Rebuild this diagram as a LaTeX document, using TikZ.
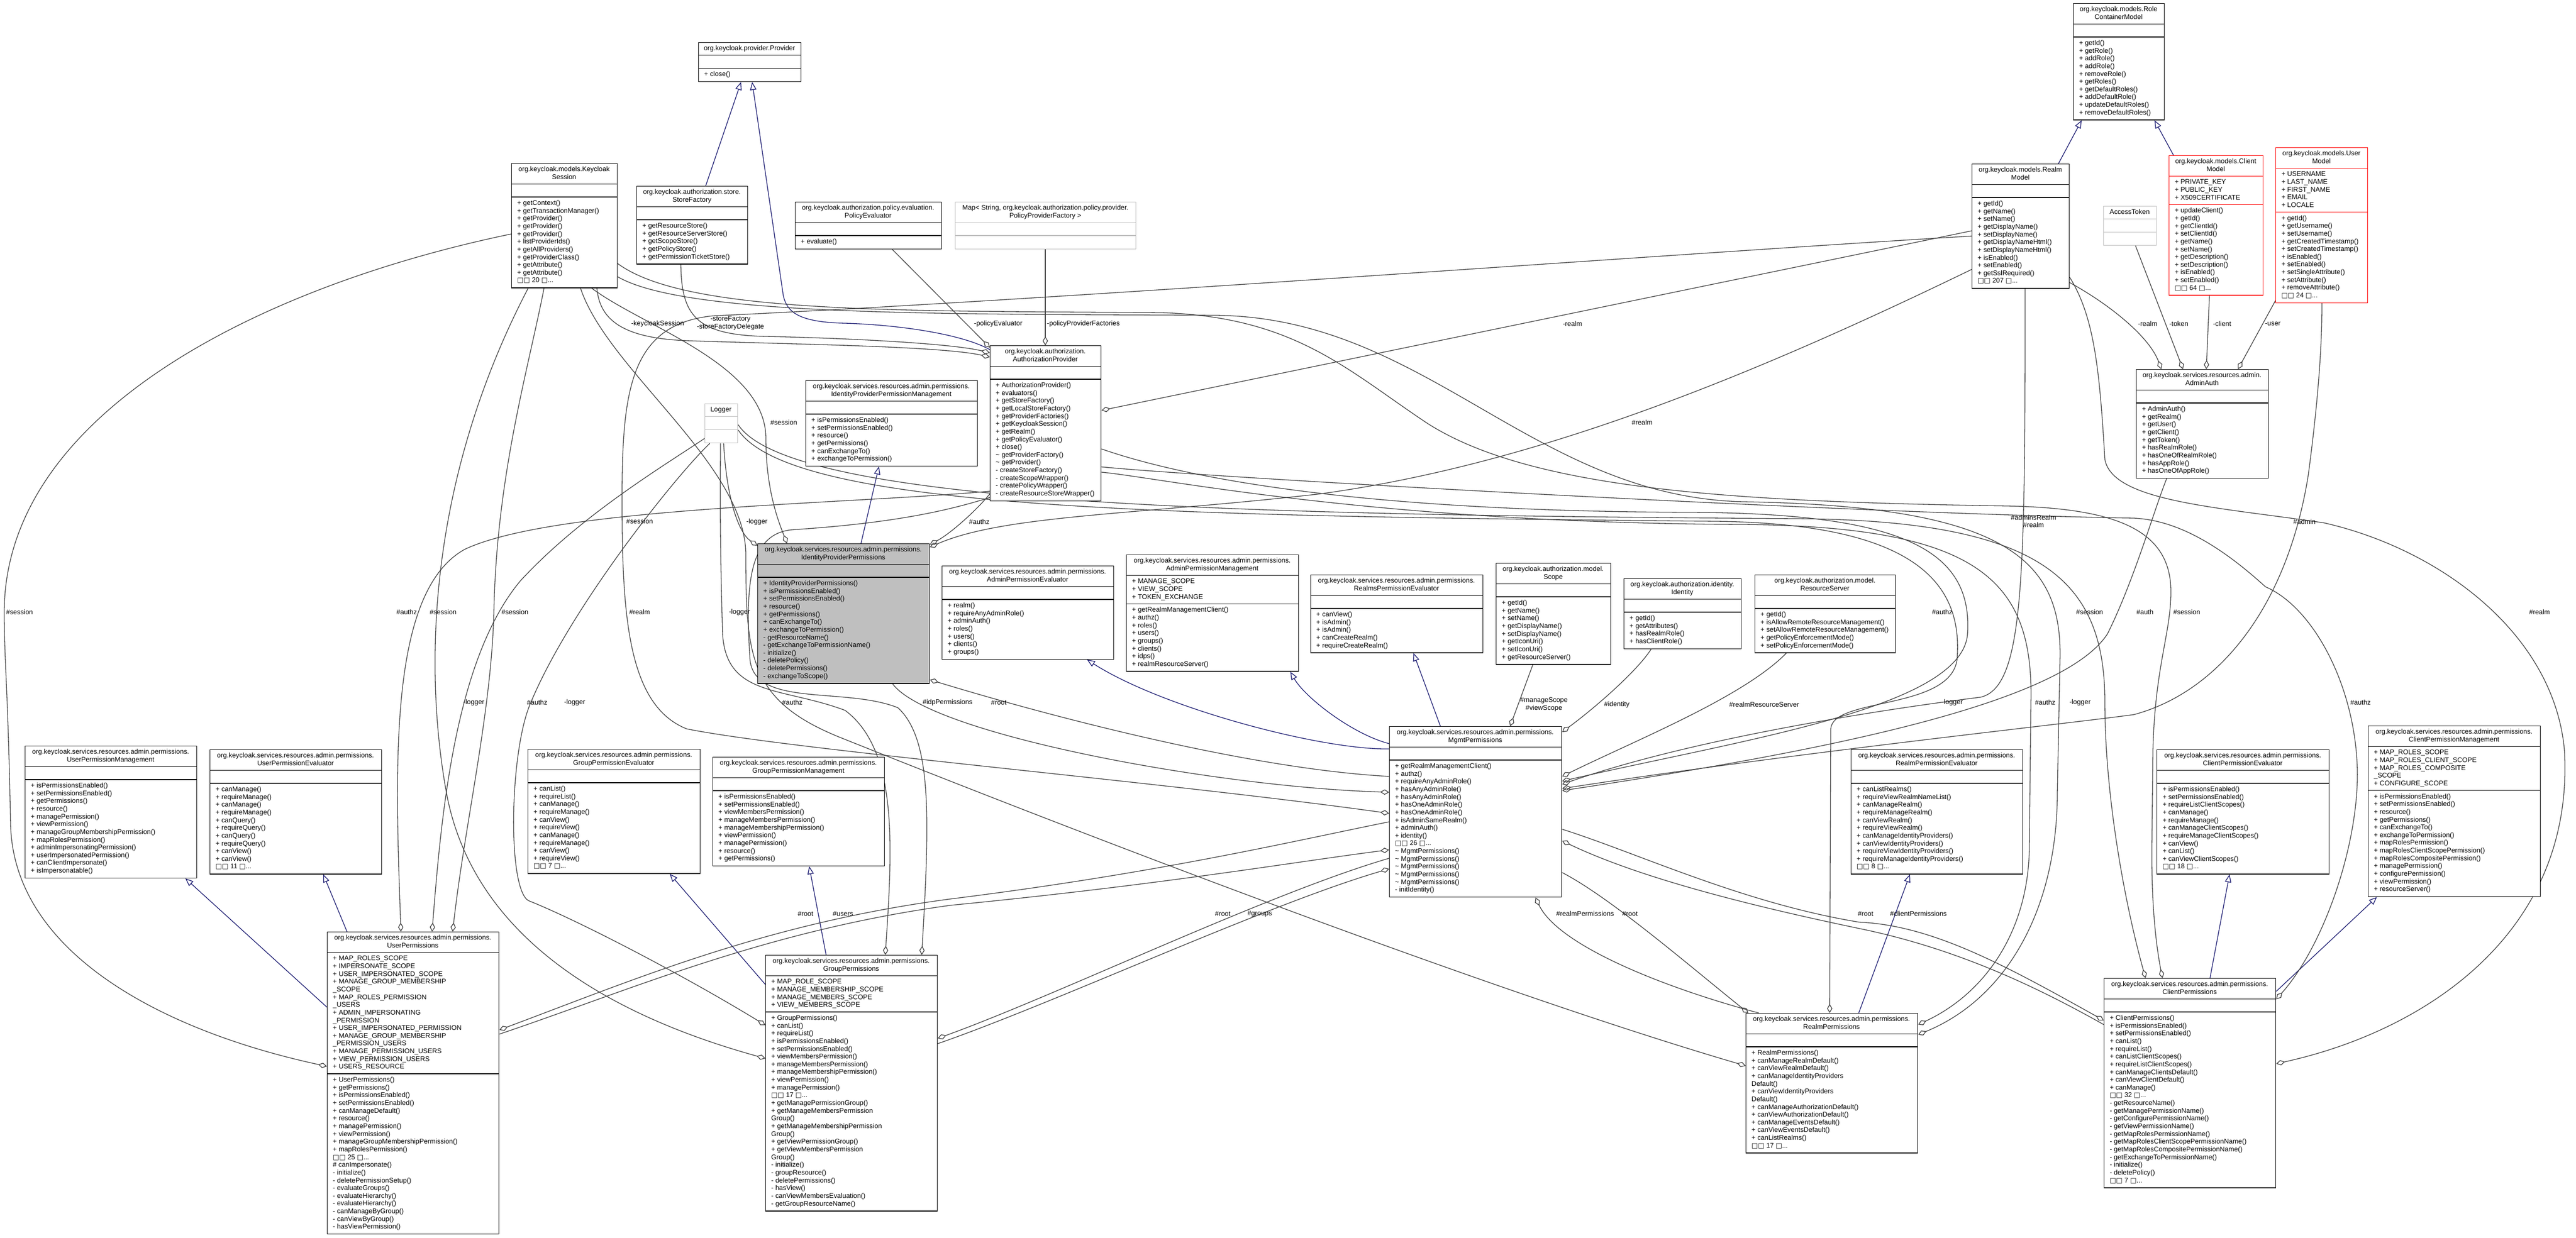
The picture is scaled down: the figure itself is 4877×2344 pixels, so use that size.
\documentclass[tikz,border=0pt]{standalone}
\usepackage{fontspec}
\setmainfont{Liberation Sans}
\newfontfamily\symf{DejaVu Sans}
\usetikzlibrary{arrows.meta}
\pgfdeclarelayer{back}
\pgfdeclarelayer{bg}
\pgfsetlayers{back,bg,main}
\definecolor{edgec}{HTML}{404040}
\definecolor{inhc}{HTML}{191970}
\definecolor{grayb}{HTML}{BFBFBF}
\newcommand\fs{\fontsize{12.85}{14.65}\selectfont}
\newcommand\sq{{\symf\char"25A1}}
\newcommand\more[1]{\sq\sq\ #1 \sq...}
\tikzset{
  umlb/.style={draw=black,line width=1.4pt,fill=white,inner sep=0pt,rectangle},
  umlsep/.style={line width=1.4pt},
  lab/.style={inner sep=0pt,font=\fs},
  inh/.style={draw=inhc,line width=1.3pt,-{Triangle[open,length=15pt,width=12pt]}},
  agg/.style={draw=edgec,line width=1.3pt,{Diamond[open,length=17pt,width=10pt]}-},
}
\newcommand\umlbox[9]{\def\ubN{#1}\def\ubS{#2}\def\ubX{#3}\def\ubY{#4}\def\ubW{#5}\def\ubNH{#6}\def\ubNA{#7}\def\ubNM{#8}\def\ubH{#9}\umlboxrest}
\newcommand\umlboxrest[2]{%
  \pgfmathsetmacro\hH{\ubNH*14.65+10}%
  \pgfmathsetmacro\hA{max(\ubNA,1)*14.65+10}%
  \pgfmathsetmacro\hM{max(\ubNM,1)*14.65+10}%
  \pgfmathsetmacro\hT{\hH+\hA+\hM}%
  \edef\tmpstyle{\noexpand\tikzset{curbox/.style={\ubS}}}\tmpstyle
  \node[umlb,curbox,minimum width=\ubW pt,minimum height=\hT pt,anchor=north west] (\ubN) at (\ubX,\ubY) {};
  \draw[umlsep,curbox,fill=none] (\ubX,\ubY+\hH) -- ++(\ubW,0);
  \draw[umlsep,curbox,fill=none] (\ubX,\ubY+\hH+\hA) -- ++(\ubW,0);
  \foreach \txt [count=\ii from 0] in \ubH {\node[lab,anchor=base] at (\ubX+\ubW/2,\ubY+15.5+\ii*14.65) {\txt};}
  \ifnum\ubNA>0
    \foreach \txt [count=\ii from 0] in {#1} {\node[lab,anchor=base west] at (\ubX+11,\ubY+\hH+15.5+\ii*14.65) {\txt};}
  \fi
  \ifnum\ubNM>0
    \foreach \txt [count=\ii from 0] in {#2} {\node[lab,anchor=base west] at (\ubX+11,\ubY+\hH+\hA+15.5+\ii*14.65) {\txt};}
  \fi
}
\begin{document}
\begin{tikzpicture}[x=1pt,y=-1pt]
\begin{pgfonlayer}{back}\fill[white] (0,0) rectangle (4877,2344);\end{pgfonlayer}
\useasboundingbox (0,0) rectangle (4877,2344);

% ---------- boxes ----------
\umlbox{PROV}{}{1322}{80}{194}{1}{0}{1}{org.keycloak.provider.Provider}{}{+ close()}
\umlbox{KS}{}{968}{309}{200}{2}{0}{11}{org.keycloak.models.Keycloak,Session}{}{+ getContext(),+ getTransactionManager(),+ getProvider(),+ getProvider(),+ getProvider(),+ listProviderIds(),+ getAllProviders(),+ getProviderClass(),+ getAttribute(),+ getAttribute(),\more{20}}
\umlbox{SF}{}{1205}{352}{210}{2}{0}{5}{org.keycloak.authorization.store.,StoreFactory}{}{+ getResourceStore(),+ getResourceServerStore(),+ getScopeStore(),+ getPolicyStore(),+ getPermissionTicketStore()}
\umlbox{PE}{}{1505}{382}{277}{2}{0}{1}{org.keycloak.authorization.policy.evaluation.,PolicyEvaluator}{}{+ evaluate()}
\umlbox{MAP}{draw=grayb}{1808}{382}{342}{2}{0}{0}{{Map< String, org.keycloak.authorization.policy.provider.},PolicyProviderFactory >}{}{}
\umlbox{AP}{}{1874}{654}{210}{2}{0}{15}{org.keycloak.authorization.,AuthorizationProvider}{}{+ AuthorizationProvider(),+ evaluators(),+ getStoreFactory(),+ getLocalStoreFactory(),+ getProviderFactories(),+ getKeycloakSession(),+ getRealm(),+ getPolicyEvaluator(),+ close(),\textasciitilde{} getProviderFactory(),\textasciitilde{} getProvider(),- createStoreFactory(),- createScopeWrapper(),- createPolicyWrapper(),- createResourceStoreWrapper()}
\umlbox{IPM}{}{1525}{720}{325}{2}{0}{6}{org.keycloak.services.resources.admin.permissions.,IdentityProviderPermissionManagement}{}{+ isPermissionsEnabled(),+ setPermissionsEnabled(),+ resource(),+ getPermissions(),+ canExchangeTo(),+ exchangeToPermission()}
\umlbox{LOG}{draw=grayb}{1334}{764}{62}{1}{0}{0}{Logger}{}{}
\umlbox{IPP}{fill=grayb}{1434}{1029}{325}{2}{0}{13}{org.keycloak.services.resources.admin.permissions.,IdentityProviderPermissions}{}{+ IdentityProviderPermissions(),+ isPermissionsEnabled(),+ setPermissionsEnabled(),+ resource(),+ getPermissions(),+ canExchangeTo(),+ exchangeToPermission(),- getResourceName(),- getExchangeToPermissionName(),- initialize(),- deletePolicy(),- deletePermissions(),- exchangeToScope()}
\umlbox{APE}{}{1783}{1071}{325}{2}{0}{7}{org.keycloak.services.resources.admin.permissions.,AdminPermissionEvaluator}{}{+ realm(),+ requireAnyAdminRole(),+ adminAuth(),+ roles(),+ users(),+ clients(),+ groups()}
\umlbox{APM}{}{2132}{1050}{326}{2}{3}{8}{org.keycloak.services.resources.admin.permissions.,AdminPermissionManagement}{+ MANAGE\_SCOPE,+ VIEW\_SCOPE,+ TOKEN\_EXCHANGE}{+ getRealmManagementClient(),+ authz(),+ roles(),+ users(),+ groups(),+ clients(),+ idps(),+ realmResourceServer()}
\umlbox{RPEA}{}{2481}{1088}{326}{2}{0}{5}{org.keycloak.services.resources.admin.permissions.,RealmsPermissionEvaluator}{}{+ canView(),+ isAdmin(),+ isAdmin(),+ canCreateRealm(),+ requireCreateRealm()}
\umlbox{SCOPE}{}{2832}{1066}{217}{2}{0}{8}{org.keycloak.authorization.model.,Scope}{}{+ getId(),+ getName(),+ setName(),+ getDisplayName(),+ setDisplayName(),+ getIconUri(),+ setIconUri(),+ getResourceServer()}
\umlbox{IDENT}{}{3074}{1095}{222}{2}{0}{4}{org.keycloak.authorization.identity.,Identity}{}{+ getId(),+ getAttributes(),+ hasRealmRole(),+ hasClientRole()}
\umlbox{RS}{}{3322}{1088}{266}{2}{0}{5}{org.keycloak.authorization.model.,ResourceServer}{}{+ getId(),+ isAllowRemoteResourceManagement(),+ setAllowRemoteResourceManagement(),+ getPolicyEnforcementMode(),+ setPolicyEnforcementMode()}
\umlbox{RCM}{}{3925}{6}{172}{2}{0}{10}{org.keycloak.models.Role,ContainerModel}{}{+ getId(),+ getRole(),+ addRole(),+ addRole(),+ removeRole(),+ getRoles(),+ getDefaultRoles(),+ addDefaultRole(),+ updateDefaultRoles(),+ removeDefaultRoles()}
\umlbox{RM}{}{3733}{310}{184}{2}{0}{11}{org.keycloak.models.Realm,Model}{}{+ getId(),+ getName(),+ setName(),+ getDisplayName(),+ setDisplayName(),+ getDisplayNameHtml(),+ setDisplayNameHtml(),+ isEnabled(),+ setEnabled(),+ getSslRequired(),\more{207}}
\umlbox{CM}{draw=red}{4106}{294}{178}{2}{3}{11}{org.keycloak.models.Client,Model}{+ PRIVATE\_KEY,+ PUBLIC\_KEY,+ X509CERTIFICATE}{+ updateClient(),+ getId(),+ getClientId(),+ setClientId(),+ getName(),+ setName(),+ getDescription(),+ setDescription(),+ isEnabled(),+ setEnabled(),\more{64}}
\umlbox{UM}{draw=red}{4308}{279}{174}{2}{5}{11}{org.keycloak.models.User,Model}{+ USERNAME,+ LAST\_NAME,+ FIRST\_NAME,+ EMAIL,+ LOCALE}{+ getId(),+ getUsername(),+ setUsername(),+ getCreatedTimestamp(),+ setCreatedTimestamp(),+ isEnabled(),+ setEnabled(),+ setSingleAttribute(),+ setAttribute(),+ removeAttribute(),\more{24}}
\umlbox{AT}{draw=grayb}{3982}{390}{100}{1}{0}{0}{AccessToken}{}{}
\umlbox{AA}{}{4044}{699}{250}{2}{0}{9}{org.keycloak.services.resources.admin.,AdminAuth}{}{+ AdminAuth(),+ getRealm(),+ getUser(),+ getClient(),+ getToken(),+ hasRealmRole(),+ hasOneOfRealmRole(),+ hasAppRole(),+ hasOneOfAppRole()}
\umlbox{MGMT}{}{2630}{1375}{326}{2}{0}{17}{org.keycloak.services.resources.admin.permissions.,MgmtPermissions}{}{+ getRealmManagementClient(),+ authz(),+ requireAnyAdminRole(),+ hasAnyAdminRole(),+ hasAnyAdminRole(),+ hasOneAdminRole(),+ hasOneAdminRole(),+ isAdminSameRealm(),+ adminAuth(),+ identity(),\more{26},\textasciitilde{} MgmtPermissions(),\textasciitilde{} MgmtPermissions(),\textasciitilde{} MgmtPermissions(),\textasciitilde{} MgmtPermissions(),\textasciitilde{} MgmtPermissions(),- initIdentity()}
\umlbox{UPM}{}{47}{1412}{325}{2}{0}{12}{org.keycloak.services.resources.admin.permissions.,UserPermissionManagement}{}{+ isPermissionsEnabled(),+ setPermissionsEnabled(),+ getPermissions(),+ resource(),+ managePermission(),+ viewPermission(),+ manageGroupMembershipPermission(),+ mapRolesPermission(),+ adminImpersonatingPermission(),+ userImpersonatedPermission(),+ canClientImpersonate(),+ isImpersonatable()}
\umlbox{UPE}{}{397}{1419}{325}{2}{0}{11}{org.keycloak.services.resources.admin.permissions.,UserPermissionEvaluator}{}{+ canManage(),+ requireManage(),+ canManage(),+ requireManage(),+ canQuery(),+ requireQuery(),+ canQuery(),+ requireQuery(),+ canView(),+ canView(),\more{11}}
\umlbox{GPE}{}{999}{1418}{326}{2}{0}{11}{org.keycloak.services.resources.admin.permissions.,GroupPermissionEvaluator}{}{+ canList(),+ requireList(),+ canManage(),+ requireManage(),+ canView(),+ requireView(),+ canManage(),+ requireManage(),+ canView(),+ requireView(),\more{7}}
\umlbox{GPM}{}{1349}{1433}{325}{2}{0}{9}{org.keycloak.services.resources.admin.permissions.,GroupPermissionManagement}{}{+ isPermissionsEnabled(),+ setPermissionsEnabled(),+ viewMembersPermission(),+ manageMembersPermission(),+ manageMembershipPermission(),+ viewPermission(),+ managePermission(),+ resource(),+ getPermissions()}
\umlbox{RPE}{}{3504}{1419}{325}{2}{0}{11}{org.keycloak.services.resources.admin.permissions.,RealmPermissionEvaluator}{}{+ canListRealms(),+ requireViewRealmNameList(),+ canManageRealm(),+ requireManageRealm(),+ canViewRealm(),+ requireViewRealm(),+ canManageIdentityProviders(),+ canViewIdentityProviders(),+ requireViewIdentityProviders(),+ requireManageIdentityProviders(),\more{8}}
\umlbox{CPE}{}{4083}{1419}{326}{2}{0}{11}{org.keycloak.services.resources.admin.permissions.,ClientPermissionEvaluator}{}{+ isPermissionsEnabled(),+ setPermissionsEnabled(),+ requireListClientScopes(),+ canManage(),+ requireManage(),+ canManageClientScopes(),+ requireManageClientScopes(),+ canView(),+ canList(),+ canViewClientScopes(),\more{18}}
\umlbox{CPM}{}{4483}{1374}{326}{2}{5}{13}{org.keycloak.services.resources.admin.permissions.,ClientPermissionManagement}{+ MAP\_ROLES\_SCOPE,+ MAP\_ROLES\_CLIENT\_SCOPE,+ MAP\_ROLES\_COMPOSITE,\_SCOPE,+ CONFIGURE\_SCOPE}{+ isPermissionsEnabled(),+ setPermissionsEnabled(),+ resource(),+ getPermissions(),+ canExchangeTo(),+ exchangeToPermission(),+ mapRolesPermission(),+ mapRolesClientScopePermission(),+ mapRolesCompositePermission(),+ managePermission(),+ configurePermission(),+ viewPermission(),+ resourceServer()}
\umlbox{UP}{}{619}{1764}{325}{2}{15}{20}{org.keycloak.services.resources.admin.permissions.,UserPermissions}{+ MAP\_ROLES\_SCOPE,+ IMPERSONATE\_SCOPE,+ USER\_IMPERSONATED\_SCOPE,+ MANAGE\_GROUP\_MEMBERSHIP,\_SCOPE,+ MAP\_ROLES\_PERMISSION,\_USERS,+ ADMIN\_IMPERSONATING,\_PERMISSION,+ USER\_IMPERSONATED\_PERMISSION,+ MANAGE\_GROUP\_MEMBERSHIP,\_PERMISSION\_USERS,+ MANAGE\_PERMISSION\_USERS,+ VIEW\_PERMISSION\_USERS,+ USERS\_RESOURCE}{+ UserPermissions(),+ getPermissions(),+ isPermissionsEnabled(),+ setPermissionsEnabled(),+ canManageDefault(),+ resource(),+ managePermission(),+ viewPermission(),+ manageGroupMembershipPermission(),+ mapRolesPermission(),\more{25},\# canImpersonate(),- initialize(),- deletePermissionSetup(),- evaluateGroups(),- evaluateHierarchy(),- evaluateHierarchy(),- canManageByGroup(),- canViewByGroup(),- hasViewPermission()}
\umlbox{GP}{}{1449}{1808}{325}{2}{4}{25}{org.keycloak.services.resources.admin.permissions.,GroupPermissions}{+ MAP\_ROLE\_SCOPE,+ MANAGE\_MEMBERSHIP\_SCOPE,+ MANAGE\_MEMBERS\_SCOPE,+ VIEW\_MEMBERS\_SCOPE}{+ GroupPermissions(),+ canList(),+ requireList(),+ isPermissionsEnabled(),+ setPermissionsEnabled(),+ viewMembersPermission(),+ manageMembersPermission(),+ manageMembershipPermission(),+ viewPermission(),+ managePermission(),\more{17},+ getManagePermissionGroup(),+ getManageMembersPermission,Group(),+ getManageMembershipPermission,Group(),+ getViewPermissionGroup(),+ getViewMembersPermission,Group(),- initialize(),- groupResource(),- deletePermissions(),- hasView(),- canViewMembersEvaluation(),- getGroupResourceName()}
\umlbox{RP}{}{3305}{1918}{325}{2}{0}{13}{org.keycloak.services.resources.admin.permissions.,RealmPermissions}{}{+ RealmPermissions(),+ canManageRealmDefault(),+ canViewRealmDefault(),+ canManageIdentityProviders,Default(),+ canViewIdentityProviders,Default(),+ canManageAuthorizationDefault(),+ canViewAuthorizationDefault(),+ canManageEventsDefault(),+ canViewEventsDefault(),+ canListRealms(),\more{17}}
\umlbox{CP}{}{3983}{1852}{325}{2}{0}{22}{org.keycloak.services.resources.admin.permissions.,ClientPermissions}{}{+ ClientPermissions(),+ isPermissionsEnabled(),+ setPermissionsEnabled(),+ canList(),+ requireList(),+ canListClientScopes(),+ requireListClientScopes(),+ canManageClientsDefault(),+ canViewClientDefault(),+ canManage(),\more{32},- getResourceName(),- getManagePermissionName(),- getConfigurePermissionName(),- getViewPermissionName(),- getMapRolesPermissionName(),- getMapRolesClientScopePermissionName(),- getMapRolesCompositePermissionName(),- getExchangeToPermissionName(),- initialize(),- deletePolicy(),\more{7}}

% ---------- connectors ----------
\begin{pgfonlayer}{bg}
% inheritance
\draw[inh] ([xshift=131pt]SF.north west) -- ([xshift=81pt]PROV.south west);
\draw[inh] ([yshift=-8pt]AP.north west) .. controls (1820,632) and (1700,615) .. (1600,612) .. controls (1510,610) and (1490,590) .. (1483,560) -- ([xshift=102pt]PROV.south west);
\draw[inh] ([xshift=164pt]RM.north west) -- ([xshift=16pt]RCM.south west);
\draw[inh] ([xshift=9pt]CM.north west) -- ([xshift=154pt]RCM.south west);
\draw[inh] ([xshift=196pt]IPP.north west) -- ([xshift=139pt]IPM.south west);
\draw[inh] ([yshift=-43pt]MGMT.north west) .. controls (2500,1420) and (2200,1340) .. ([xshift=275pt]APE.south west);
\draw[inh] ([yshift=-33pt]MGMT.north west) .. controls (2560,1390) and (2470,1320) .. ([xshift=311pt]APM.south west);
\draw[inh] ([xshift=97pt]MGMT.north west) -- ([xshift=195pt]RPEA.south west);
\draw[inh] ([yshift=-143pt]UP.north west) -- ([xshift=304pt]UPM.south west);
\draw[inh] ([xshift=38pt]UP.north west) -- ([xshift=215pt]UPE.south west);
\draw[inh] ([yshift=-56pt]GP.north west) -- ([xshift=269pt]GPE.south west);
\draw[inh] ([xshift=115pt]GP.north west) -- ([xshift=183pt]GPM.south west);
\draw[inh] ([xshift=214pt]RP.north west) -- ([xshift=112pt]RPE.south west);
\draw[inh] ([xshift=201pt]CP.north west) -- ([xshift=138pt]CPE.south west);
\draw[inh] ([yshift=-25pt]CP.north east) -- ([xshift=17pt]CPM.south west);
% AuthorizationProvider members
\draw[agg] ([yshift=-14pt]AP.north west) .. controls (1800,650) and (1600,640) .. (1450,637) .. controls (1320,634) and (1290,600) .. ([xshift=84pt]SF.south west);
\draw[agg] ([yshift=-22pt]AP.north west) .. controls (1780,655) and (1500,652) .. (1300,645) .. controls (1170,640) and (1135,600) .. ([xshift=162pt]KS.south west);
\draw[agg] ([yshift=-4pt]AP.north west) -- ([xshift=184pt]PE.south west);
\draw[agg] ([xshift=105pt]AP.north west) -- ([xshift=171pt]MAP.south west);
\draw[agg] ([yshift=-123pt]AP.north east) -- ([yshift=-127pt]RM.north west);
% AdminAuth members
\draw[agg] ([xshift=48pt]AA.north west) .. controls (4070,640) and (4000,580) .. ([yshift=-225pt]RM.north east);
\draw[agg] ([xshift=89pt]AA.north west) -- ([xshift=61pt]AT.south west);
\draw[agg] ([xshift=133pt]AA.north west) -- ([xshift=77pt]CM.south west);
\draw[agg] ([xshift=193pt]AA.north west) -- ([yshift=-290pt]UM.north west);
% IdentityProviderPermissions
\draw[agg] ([xshift=56pt]IPP.north west) .. controls (1475,990) and (1450,930) .. (1450,830) .. controls (1450,690) and (1220,620) .. ([xshift=152pt]KS.south west);
\draw[agg] ([yshift=-4pt]IPP.north west) .. controls (1400,1010) and (1376,950) .. ([xshift=36pt]LOG.south west);
\draw[agg] ([yshift=-2pt]IPP.north east) .. controls (1800,1010) and (1850,965) .. ([yshift=-281pt]AP.north west);
\draw[agg] ([yshift=-7pt]IPP.north east) .. controls (1900,975) and (2150,975) .. (2500,935) .. controls (2900,880) and (3300,720) .. ([yshift=-200pt]RM.north west);
\draw[agg] ([yshift=-258pt]IPP.north east) .. controls (1950,1345) and (2350,1455) .. ([yshift=-95pt]MGMT.north west);
\draw[agg] ([yshift=-125pt]MGMT.north west) .. controls (2300,1490) and (1760,1390) .. ([xshift=256pt]IPP.south west);
% MgmtPermissions members
\draw[agg] ([xshift=229pt]MGMT.north west) -- ([xshift=70pt]SCOPE.south west);
\draw[agg] ([yshift=-11pt]MGMT.north east) .. controls (3020,1340) and (3100,1270) .. ([xshift=52pt]IDENT.south west);
\draw[agg] ([yshift=-95pt]MGMT.north east) .. controls (3100,1400) and (3300,1320) .. ([xshift=60pt]RS.south west);
\draw[agg] ([yshift=-110pt]MGMT.north east) .. controls (3200,1400) and (3550,1345) .. (3750,1320) .. controls (3832,1300) and (3834,1100) .. ([xshift=101pt]RM.south west);
\draw[agg] ([yshift=-118pt]MGMT.north east) .. controls (3400,1425) and (3900,1372) .. (4040,1353) .. controls (4200,1310) and (4330,1150) .. (4370,900) .. controls (4390,750) and (4396,650) .. ([xshift=88pt]UM.south west);
\draw[agg] ([yshift=-122pt]MGMT.north east) .. controls (3400,1430) and (3900,1340) .. (3990,1200) .. controls (4040,1100) and (4080,960) .. ([xshift=58pt]AA.south west);
\draw[agg] ([yshift=-104pt]MGMT.north east) .. controls (3300,1400) and (3715,1340) .. (3725,1200) .. controls (3735,1040) and (3600,972) .. (3200,970) .. controls (2500,968) and (2200,890) .. ([yshift=-196pt]AP.north east);
\draw[agg] ([yshift=-165pt]MGMT.north west) .. controls (2200,1480) and (1500,1420) .. (1300,1380) .. controls (1200,1340) and (1180,1200) .. (1178,1000) .. controls (1176,760) and (1180,615) .. (1350,598) .. controls (2000,568) and (3200,478) .. ([yshift=-137pt]RM.north west);
% UserPermissions
\draw[agg] ([yshift=-255pt]UP.north west) .. controls (300,1950) and (25,1800) .. (20,1560) .. controls (15,1300) and (8,1250) .. (8,1160) .. controls (8,780) and (500,540) .. ([yshift=-134pt]KS.north west);
\draw[agg] ([xshift=140pt]UP.north west) .. controls (748,1450) and (735,1120) .. (880,1040) .. controls (1050,960) and (1600,955) .. ([yshift=-276pt]AP.north west);
\draw[agg] ([xshift=199pt]UP.north west) .. controls (835,1550) and (860,1250) .. (985,1100) .. controls (1100,975) and (1260,880) .. ([yshift=-66pt]LOG.north west);
\draw[agg] ([xshift=238pt]UP.north west) .. controls (880,1560) and (930,1350) .. (935,1160) .. controls (940,900) and (1000,700) .. ([xshift=62pt]KS.south west);
\draw[agg] ([yshift=-186pt]UP.north east) .. controls (1200,1855) and (1450,1748) .. (1800,1702) .. controls (2200,1652) and (2450,1592) .. ([yshift=-181pt]MGMT.north west);
\draw[agg] ([yshift=-234pt]MGMT.north west) .. controls (2450,1632) and (2200,1675) .. (1800,1714) .. controls (1450,1762) and (1200,1872) .. ([yshift=-194pt]UP.north east);
% GroupPermissions
\draw[agg] ([yshift=-133pt]GP.north west) .. controls (1300,1850) and (1100,1745) .. (1000,1705) .. controls (960,1680) and (965,1420) .. (1005,1330) .. controls (1080,1150) and (1280,900) .. ([xshift=10pt]LOG.south west);
\draw[agg] ([yshift=-196pt]GP.north west) .. controls (1200,1935) and (900,1800) .. (845,1500) .. controls (800,1250) and (815,900) .. ([xshift=32pt]KS.south west);
\draw[agg] ([xshift=227pt]GP.north west) .. controls (1690,1600) and (1700,1420) .. (1600,1345) .. controls (1480,1300) and (1375,1320) .. (1368,1200) .. controls (1362,1000) and (1364,900) .. ([xshift=30pt]LOG.south west);
\draw[agg] ([xshift=296pt]GP.north west) .. controls (1760,1550) and (1765,1400) .. (1700,1340) .. controls (1600,1300) and (1430,1340) .. (1420,1250) .. controls (1410,1100) and (1420,1010) .. (1500,1003) .. controls (1700,990) and (1800,965) .. ([yshift=-288pt]AP.north west);
\draw[agg] ([yshift=-158pt]GP.north east) .. controls (2000,1885) and (2400,1692) .. ([yshift=-250pt]MGMT.north west);
\draw[agg] ([yshift=-270pt]MGMT.north west) .. controls (2400,1712) and (2000,1898) .. ([yshift=-168pt]GP.north east);
% RealmPermissions
\draw[agg] ([xshift=5pt]RP.north west) .. controls (3200,1830) and (3050,1700) .. ([yshift=-277pt]MGMT.north east);
\draw[agg] ([xshift=277pt]MGMT.south west) .. controls (2950,1790) and (3150,1870) .. ([xshift=25pt]RP.north west);
\draw[agg] ([xshift=159pt]RP.north west) -- (3466,1380) .. controls (3470,1320) and (3690,1345) .. (3705,1250) .. controls (3718,1100) and (3620,992) .. (3250,987) .. controls (2200,977) and (1500,965) .. ([yshift=-50pt]LOG.north east);
\draw[agg] ([yshift=-22pt]RP.north east) .. controls (3760,1880) and (3842,1760) .. (3842,1600) -- (3845,1330) .. controls (3850,1100) and (3750,997) .. (3300,993) .. controls (2600,990) and (2200,905) .. ([yshift=-240pt]AP.north east);
\draw[agg] ([yshift=-41pt]RP.north east) .. controls (3800,1890) and (3895,1720) .. (3895,1500) -- (3900,1250) .. controls (3905,1060) and (3800,958) .. (3300,950) .. controls (2900,940) and (2700,600) .. (2300,597) .. controls (1800,594) and (1300,600) .. ([yshift=-215pt]KS.north east);
\draw[agg] ([yshift=-100pt]RP.north west) .. controls (2800,1870) and (2000,1560) .. (1600,1400) .. controls (1420,1330) and (1412,1250) .. (1412,1050) .. controls (1412,880) and (1150,700) .. ([xshift=131pt]KS.south west);
% ClientPermissions
\draw[agg] ([xshift=79pt]CP.north west) .. controls (4020,1700) and (3985,1500) .. (3985,1330) .. controls (3985,1100) and (3870,985) .. (3400,982) .. controls (2400,975) and (1500,960) .. ([yshift=-40pt]LOG.north east);
\draw[agg] ([xshift=111pt]CP.north west) .. controls (4080,1780) and (4073,1700) .. (4074,1600) -- (4076,1420) .. controls (4080,1260) and (4110,1200) .. (4110,1120) .. controls (4110,1000) and (4000,962) .. (3800,958) .. controls (3300,950) and (2900,930) .. (2700,800) .. controls (2550,700) and (2450,600) .. (2200,592) .. controls (1700,588) and (1300,595) .. ([yshift=-190pt]KS.north east);
\draw[agg] ([yshift=-80pt]CP.north west) .. controls (3800,1830) and (3660,1752) .. (3520,1746) .. controls (3300,1710) and (3100,1615) .. ([yshift=-195pt]MGMT.north east);
\draw[agg] ([yshift=-217pt]MGMT.north east) .. controls (3100,1660) and (3300,1712) .. (3520,1758) .. controls (3700,1795) and (3850,1865) .. ([yshift=-88pt]CP.north west);
\draw[agg] ([yshift=-40pt]CP.north east) .. controls (4400,1790) and (4465,1600) .. (4463,1460) .. controls (4460,1300) and (4380,1150) .. (4289,1111) .. controls (4200,1030) and (4120,985) .. (4040,981) .. controls (3500,972) and (2300,905) .. ([yshift=-230pt]AP.north east);
\draw[agg] ([yshift=-162pt]CP.north east) .. controls (4600,1950) and (4875,1760) .. (4855,1420) .. controls (4835,1200) and (4620,1040) .. (4400,990) .. controls (4200,960) and (4000,950) .. (3985,870) .. controls (3975,700) and (3965,600) .. ([yshift=-215pt]RM.north east);
\end{pgfonlayer}

% ---------- connector labels ----------
\node[lab,align=center] at (1383,612) {-storeFactory\\-storeFactoryDelegate};
\node[lab] at (1245,613) {-keycloakSession};
\node[lab,anchor=west] at (1844,613) {-policyEvaluator};
\node[lab,anchor=west] at (1982,613) {-policyProviderFactories};
\node[lab] at (2977,613) {-realm};
\node[lab] at (4066,613) {-realm};
\node[lab] at (4125,613) {-token};
\node[lab] at (4207,613) {-client};
\node[lab] at (4303,613) {-user};
\node[lab] at (1484,800) {\#session};
\node[lab] at (3109,800) {\#realm};
\node[lab] at (1433,988) {-logger};
\node[lab] at (1854,988) {\#authz};
\node[lab] at (1211,987) {\#session};
\node[lab,align=center] at (3850,987) {\#adminsRealm\\\#realm};
\node[lab] at (4363,988) {\#admin};
\node[lab] at (37,1159) {\#session};
\node[lab] at (770,1159) {\#authz};
\node[lab] at (839,1159) {\#session};
\node[lab] at (975,1159) {\#session};
\node[lab] at (1211,1159) {\#realm};
\node[lab] at (1400,1159) {-logger};
\node[lab] at (3677,1159) {\#authz};
\node[lab] at (3956,1159) {\#session};
\node[lab] at (4061,1159) {\#auth};
\node[lab] at (4140,1159) {\#session};
\node[lab] at (4808,1159) {\#realm};
\node[lab] at (897,1330) {-logger};
\node[lab] at (1017,1330) {\#authz};
\node[lab] at (1088,1330) {-logger};
\node[lab] at (1500,1330) {\#authz};
\node[lab] at (1794,1330) {\#idpPermissions};
\node[lab] at (1891,1330) {\#root};
\node[lab,align=center] at (2923,1334) {\#manageScope\\\#viewScope};
\node[lab] at (3061,1334) {\#identity};
\node[lab] at (3340,1334) {\#realmResourceServer};
\node[lab] at (3696,1330) {-logger};
\node[lab] at (3872,1330) {\#authz};
\node[lab] at (3938,1330) {-logger};
\node[lab] at (4469,1330) {\#authz};
\node[lab] at (1525,1730) {\#root};
\node[lab] at (1596,1730) {\#users};
\node[lab] at (2315,1730) {\#root};
\node[lab] at (2385,1730) {\#groups};
\node[lab] at (3001,1730) {\#realmPermissions};
\node[lab] at (3086,1730) {\#root};
\node[lab] at (3532,1730) {\#root};
\node[lab] at (3632,1730) {\#clientPermissions};
\end{tikzpicture}
\end{document}
